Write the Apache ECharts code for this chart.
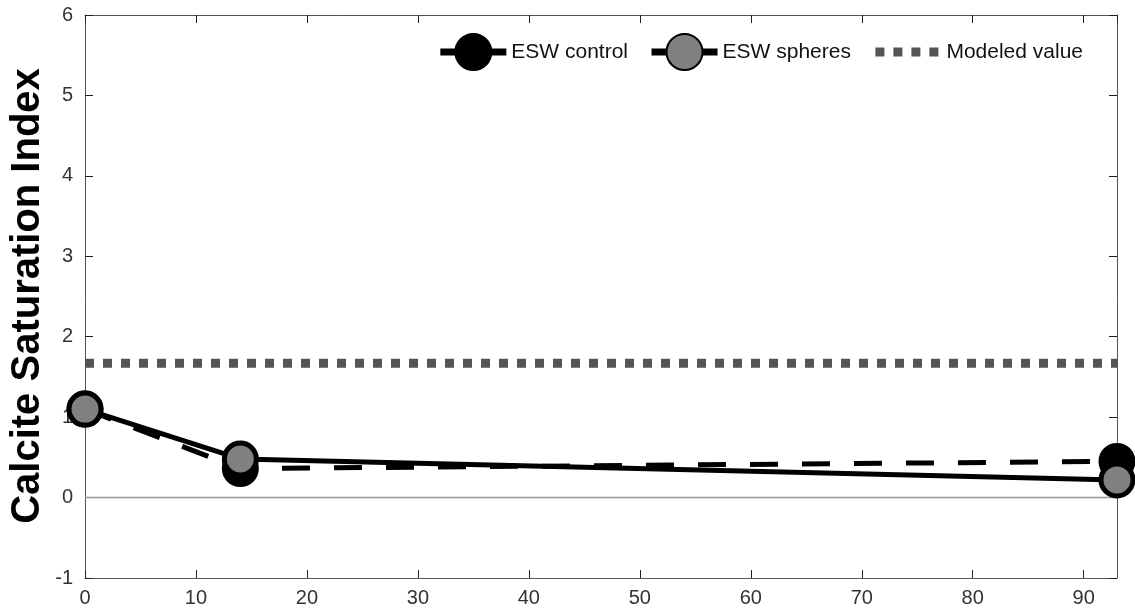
<!DOCTYPE html>
<html>
<head>
<meta charset="utf-8">
<script src="https://cdn.jsdelivr.net/npm/echarts@6/dist/echarts.min.js"></script>
<style>
html,body{margin:0;padding:0;background:#fff;}
#chart{width:1135px;height:616px;}
</style>
</head>
<body>
<div id="chart"></div>
<script>
// ---- data ----
const days = [0, 14, 93];
const controlSI = [1.10, 0.36, 0.45];
const spheresSI = [1.10, 0.48, 0.22];
const modeledSI = 1.67;
const xTickValues = [0, 10, 20, 30, 40, 50, 60, 70, 80, 90];
const yTickValues = [-1, 0, 1, 2, 3, 4, 5, 6];
const seriesNames = ['ESW control', 'ESW spheres', 'Modeled value'];
const yTitle = 'Calcite Saturation Index';

const pairs = (xs, ys) => xs.map((x, i) => [x, ys[i]]);
const FONT = '"Liberation Sans", Arial, Helvetica, sans-serif';
const AX = '#555';

const chart = echarts.init(document.getElementById('chart'));
const xMin = 0, xMax = 93, yMin = -1, yMax = 6;

const baseX = {
  type: 'value', min: xMin, max: xMax, interval: 10,
  axisLine: {show: true, onZero: false, lineStyle: {color: AX, width: 1}},
  axisTick: {show: true, inside: true, length: 8, lineStyle: {color: '#222', width: 1}},
  splitLine: {show: false}
};
const baseY = {
  type: 'value', min: yMin, max: yMax, interval: 1,
  axisLine: {show: true, onZero: false, lineStyle: {color: AX, width: 1}},
  axisTick: {show: true, inside: true, length: 8, lineStyle: {color: '#222', width: 1}},
  splitLine: {show: false}
};

chart.setOption({
  animation: false,
  backgroundColor: '#fff',
  grid: {left: 85, top: 15, right: 18, bottom: 38, containLabel: false, outerBoundsMode: 'none'},
  graphic: [{
    type: 'text', x: 28, y: 296, rotation: Math.PI / 2, silent: true,
    style: {text: yTitle, font: 'bold 40px ' + FONT, fill: '#000', align: 'center', verticalAlign: 'middle'}
  }],
  legend: {
    data: [
      {name: seriesNames[0], lineStyle: {type: 'solid', width: 7}},
      {name: seriesNames[1], lineStyle: {type: 'solid', width: 7}},
      {name: seriesNames[2], itemStyle: {color: 'rgba(0,0,0,0)', borderWidth: 0, borderColor: 'rgba(0,0,0,0)'}, lineStyle: {width: 9}}
    ],
    right: 47, top: 28,
    itemWidth: 66, itemHeight: 45, itemGap: 20,
    textStyle: {fontFamily: FONT, fontSize: 21, color: '#111'}
  },
  xAxis: [
    Object.assign({}, baseX, {
      position: 'bottom',
      axisLabel: {show: true, fontFamily: FONT, fontSize: 20, color: '#333', margin: 10, showMaxLabel: false,
        formatter: v => xTickValues.includes(v) ? String(v) : ''}
    }),
    Object.assign({}, baseX, {position: 'top', axisLabel: {show: false}})
  ],
  yAxis: [
    Object.assign({}, baseY, {
      position: 'left',
      axisLabel: {show: true, fontFamily: FONT, fontSize: 20, color: '#333', margin: 12,
        formatter: v => yTickValues.includes(v) ? String(v) : ''}
    }),
    Object.assign({}, baseY, {position: 'right', axisLabel: {show: false}})
  ],
  series: [
    {
      name: 'zero', type: 'line', data: [[xMin, 0], [xMax, 0]],
      symbol: 'none', silent: true, z: 1,
      lineStyle: {color: '#999', width: 1.5}
    },
    {
      name: seriesNames[2], type: 'line', data: [[xMin, modeledSI], [xMax, modeledSI]],
      symbol: 'none', z: 2,
      itemStyle: {color: '#555'},
      lineStyle: {color: '#555', width: 9, type: [9, 9]}
    },
    {
      name: seriesNames[0], type: 'line', data: pairs(days, controlSI),
      symbol: 'circle', symbolSize: 34, z: 3,
      itemStyle: {color: '#000', borderColor: '#000', borderWidth: 3},
      lineStyle: {color: '#000', width: 5, type: [28, 24]}
    },
    {
      name: seriesNames[1], type: 'line', data: pairs(days, spheresSI),
      symbol: 'circle', symbolSize: 32, z: 4,
      itemStyle: {color: '#808080', borderColor: '#000', borderWidth: 5},
      lineStyle: {color: '#000', width: 5}
    }
  ]
});
</script>
</body>
</html>
